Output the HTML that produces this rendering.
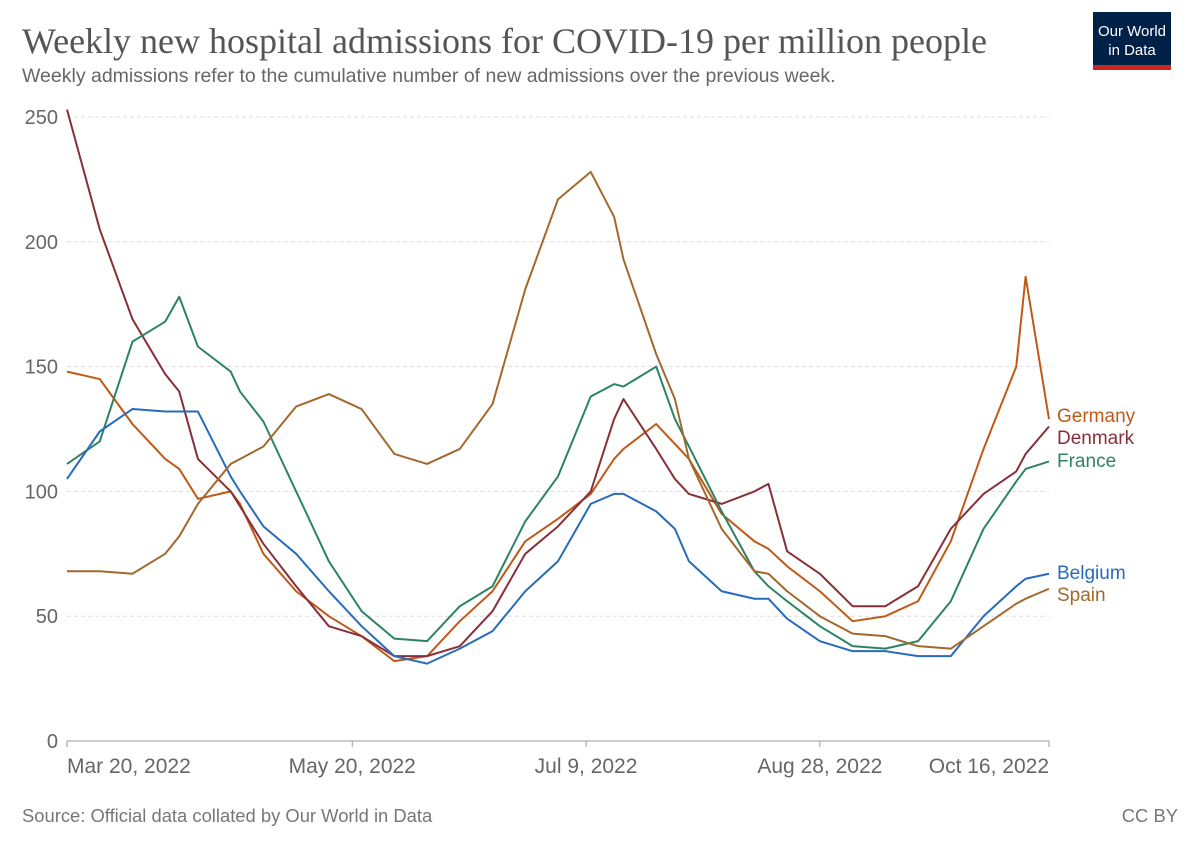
<!DOCTYPE html>
<html><head><meta charset="utf-8"><style>
body{margin:0;background:#fff;width:1200px;height:847px;overflow:hidden;font-family:"Liberation Sans",sans-serif}
</style></head><body>
<svg width="1200" height="847" xmlns="http://www.w3.org/2000/svg">
<text x="22" y="53" font-family="Liberation Serif,serif" font-size="36" fill="#555">Weekly new hospital admissions for COVID-19 per million people</text>
<text x="22" y="82" font-size="19.5" fill="#666">Weekly admissions refer to the cumulative number of new admissions over the previous week.</text>
<g>
<rect x="1093" y="12" width="78" height="58" fill="#002147"/>
<rect x="1093" y="65" width="78" height="5" fill="#ce261e"/>
<text x="1132" y="36" font-size="15" fill="#fff" text-anchor="middle">Our World</text>
<text x="1132" y="55" font-size="15" fill="#fff" text-anchor="middle">in Data</text>
</g>
<g id="grid"></g><g id="lines"></g><g id="labels"></g>
<text x="22" y="822" font-size="18.4" fill="#777">Source: Official data collated by Our World in Data</text>
<text x="1178" y="822" font-size="18.4" fill="#777" text-anchor="end">CC BY</text>
</svg>
<script>
const days=[0,7,14,21,24,28,35,37,42,49,56,63,70,77,84,91,98,105,112,117,119,126,130,133,140,147,150,154,161,168,175,182,189,196,203,205,210];
const yTicks=[0,50,100,150,200,250];
const xTickDays=[0,61,111,161,210];
const xTickLabels=["Mar 20, 2022","May 20, 2022","Jul 9, 2022","Aug 28, 2022","Oct 16, 2022"];
const germany=[148,145,127,113,109,97,100,95,75,60,50,42,32,34,48,60,80,89,99,113,117,127,119,113,91,80,77,70,60,48,50,56,80,117,150,186,129];
const denmark=[253,205,169,147,140,113,100,94,79,62,46,42,34,34,38,52,75,86,100,129,137,117,105,99,95,100,103,76,67,54,54,62,85,99,108,115,126];
const france=[111,120,160,168,178,158,148,140,128,100,72,52,41,40,54,62,88,106,138,143,142,150,129,118,92,68,62,56,46,38,37,40,56,85,104,109,112];
const belgium=[105,124,133,132,132,132,106,100,86,75,60,46,34,31,37,44,60,72,95,99,99,92,85,72,60,57,57,49,40,36,36,34,34,50,62,65,67];
const spain=[68,68,67,75,82,95,111,113,118,134,139,133,115,111,117,135,181,217,228,210,193,155,137,113,85,68,67,60,50,43,42,38,37,46,55,57,61];
const seriesNames=["Germany","Denmark","France","Belgium","Spain"];
const seriesData=[germany,denmark,france,belgium,spain];
const colors=["#c05917","#883039","#2c8465","#286bbb","#a2692e"];
const labelY=[416,438,461,573,595];
const X=d=>67+d*982/210, Y=v=>741-v*2.496;
const NS="http://www.w3.org/2000/svg";
const grid=document.getElementById('grid'),lines=document.getElementById('lines'),labels=document.getElementById('labels');
function mk(tag,attrs,parent){const e=document.createElementNS(NS,tag);for(const k in attrs)e.setAttribute(k,attrs[k]);parent.appendChild(e);return e;}
yTicks.forEach(t=>{
 const l=mk('line',{x1:67,x2:1049,y1:Y(t),y2:Y(t),stroke:t===0?'#999':'#ddd','stroke-dasharray':t===0?'':'4,3'},grid);
 
 
 const tx=mk('text',{x:58,y:Y(t)+7,'font-size':20,fill:'#666','text-anchor':'end'},grid);tx.textContent=t;
 
 
});
xTickDays.forEach((d,i)=>{
 mk('line',{x1:X(d),x2:X(d),y1:741,y2:747,stroke:'#999'},grid);
 const anchor=i===0?'start':(i===xTickDays.length-1?'end':'middle');
 const tx=mk('text',{x:X(d),y:773,'font-size':21,fill:'#666','text-anchor':anchor},grid);tx.textContent=xTickLabels[i];
 
 
});
seriesData.forEach((s,i)=>{
 const p=mk('polyline',{points:s.map((v,j)=>X(days[j])+','+Y(v)).join(' '),fill:'none',stroke:colors[i],'stroke-width':2,'stroke-linejoin':'round'},lines);
 
 
 const t=mk('text',{x:1057,y:labelY[i]+6,'font-size':19,fill:colors[i]},labels);t.textContent=seriesNames[i];
 
 
});
</script>
</body></html>
